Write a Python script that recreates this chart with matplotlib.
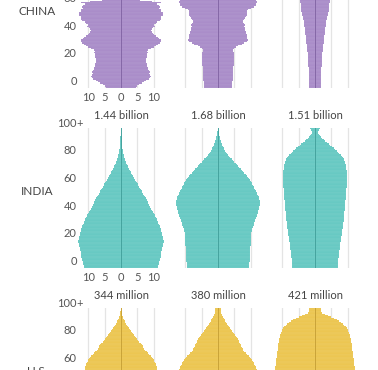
# %%
"""
Population pyramids: China, India, U.S. (2024 / 2050 / 2100)
"""
import matplotlib
matplotlib.use("Agg")
import matplotlib.pyplot as plt
import matplotlib.transforms as mtransforms
import numpy as np

# %% data (millions per sex, single year of age 0..100+)
ages = np.arange(0, 101)

china_2024 = [4.6, 5.0, 5.5, 6.3, 7.0, 7.8, 8.5, 8.9, 9.3, 8.8,
              8.6, 9.0, 8.7, 8.4, 8.3, 8.1, 8.0, 7.9, 7.8, 7.7,
              7.7, 7.8, 7.9, 8.0, 8.1, 8.2, 8.1, 8.4, 9.2, 10.0,
              10.8, 11.4, 11.9, 12.2, 12.3, 11.8, 11.3, 10.8, 10.2, 9.7,
              9.4, 9.2, 9.6, 9.9, 10.3, 10.1, 10.6, 11.2, 11.9, 12.4,
              12.4, 12.2, 12.8, 12.9, 12.9, 12.4, 12.3, 11.8, 12.1, 11.6,
              11.2, 12.2, 9.6, 5.8, 6.6, 7.6, 8.6, 8.2, 7.8, 7.3,
              7.0, 6.4, 5.9, 5.5, 5.1, 4.6, 4.2, 3.9, 3.5, 3.1,
              2.6, 2.3, 2.0, 1.7, 1.5, 1.2, 1.0, 0.8, 0.7, 0.5,
              0.4, 0.3, 0.25, 0.2, 0.15, 0.1, 0.08, 0.06, 0.04, 0.03, 0.05]
china_2050 = [4.2, 4.3, 4.3, 4.4, 4.4, 4.5, 4.5, 4.5, 4.6, 4.6,
              4.6, 4.6, 4.7, 4.7, 4.7, 4.7, 4.8, 4.8, 4.8, 4.8,
              4.8, 4.8, 4.8, 4.9, 4.9, 5.0, 4.7, 4.5, 4.9, 5.4,
              6.2, 7.4, 8.0, 8.8, 9.2, 9.0, 8.8, 8.9, 8.8, 8.7,
              8.5, 8.3, 8.3, 8.2, 8.1, 8.2, 8.0, 7.8, 7.7, 7.9,
              8.3, 8.6, 8.8, 8.9, 8.8, 9.0, 9.3, 10.2, 11.0, 11.6,
              11.8, 12.0, 11.9, 11.7, 11.3, 10.5, 9.6, 9.3, 9.1, 9.0,
              8.8, 8.9, 8.6, 8.4, 8.9, 9.2, 9.4, 9.1, 8.7, 8.3,
              7.8, 7.2, 6.7, 6.0, 5.4, 4.6, 3.6, 2.4, 2.0, 2.2,
              1.9, 1.6, 1.3, 1.0, 0.8, 0.6, 0.45, 0.3, 0.2, 0.15, 0.25]
china_2100 = [1.7, 1.7, 1.7, 1.75, 1.75, 1.8, 1.8, 1.8, 1.85, 1.85,
              1.9, 1.9, 1.9, 1.95, 1.95, 2.0, 2.0, 2.0, 2.05, 2.1,
              2.1, 2.15, 2.2, 2.2, 2.25, 2.3, 2.35, 2.4, 2.45, 2.5,
              2.55, 2.6, 2.65, 2.7, 2.75, 2.8, 2.85, 2.9, 2.95, 3.0,
              3.05, 3.1, 3.15, 3.2, 3.25, 3.3, 3.35, 3.4, 3.5, 3.6,
              3.7, 3.8, 3.9, 4.0, 4.1, 4.15, 4.2, 4.3, 4.35, 4.4,
              4.45, 4.5, 4.55, 4.6, 4.65, 4.7, 4.75, 4.8, 4.8, 4.85,
              4.85, 4.85, 4.8, 4.8, 4.75, 4.7, 4.6, 4.5, 4.4, 4.3,
              4.1, 3.9, 3.7, 3.5, 3.2, 2.9, 2.6, 2.3, 2.0, 1.7,
              1.4, 1.15, 0.9, 0.7, 0.55, 0.4, 0.3, 0.22, 0.15, 0.1, 0.3]

india_2024 = [11.4, 11.5, 11.6, 11.7, 11.8, 12.0, 12.1, 12.2, 12.3, 12.3,
              12.3, 12.4, 12.5, 12.6, 12.7, 12.8, 12.9, 13.0, 13.1, 13.1,
              13.0, 12.9, 12.8, 12.7, 12.6, 12.5, 12.4, 12.3, 12.2, 12.1,
              11.9, 11.7, 11.5, 11.3, 11.1, 10.9, 10.7, 10.5, 10.3, 10.1,
              9.9, 9.6, 9.3, 9.0, 8.8, 8.6, 8.4, 8.2, 8.0, 7.9,
              7.7, 7.4, 7.1, 6.8, 6.6, 6.4, 6.1, 5.8, 5.6, 5.3,
              5.1, 4.8, 4.6, 4.4, 4.1, 3.9, 3.7, 3.5, 3.2, 3.0,
              2.8, 2.5, 2.3, 2.0, 1.8, 1.6, 1.4, 1.3, 1.1, 1.0,
              0.9, 0.8, 0.7, 0.6, 0.55, 0.5, 0.45, 0.4, 0.35, 0.3,
              0.28, 0.25, 0.22, 0.2, 0.18, 0.15, 0.13, 0.12, 0.1, 0.1, 0.1]
india_2050 = [9.6, 9.6, 9.65, 9.65, 9.7, 9.7, 9.75, 9.75, 9.8, 9.8,
              9.85, 9.85, 9.9, 9.9, 9.95, 9.95, 10.0, 10.0, 10.0, 10.05,
              10.05, 10.1, 10.1, 10.15, 10.2, 10.25, 10.3, 10.35, 10.5, 10.8,
              11.0, 11.1, 11.2, 11.3, 11.4, 11.6, 11.8, 12.0, 12.1, 12.2,
              12.3, 12.4, 12.5, 12.6, 12.7, 12.75, 12.8, 12.8, 12.8, 12.7,
              12.6, 12.5, 12.3, 12.1, 11.9, 11.7, 11.4, 11.2, 11.0, 10.8,
              10.5, 10.3, 10.0, 9.8, 9.5, 9.2, 8.9, 8.5, 8.1, 7.8,
              7.4, 7.0, 6.6, 6.2, 5.8, 5.4, 5.0, 4.6, 4.2, 3.8,
              3.4, 3.1, 2.8, 2.5, 2.2, 1.95, 1.7, 1.5, 1.3, 1.15,
              1.0, 0.85, 0.7, 0.6, 0.5, 0.4, 0.32, 0.25, 0.2, 0.15, 0.15]
india_2100 = [7.0, 7.0, 7.05, 7.1, 7.1, 7.15, 7.2, 7.25, 7.3, 7.35,
              7.4, 7.45, 7.5, 7.55, 7.6, 7.65, 7.7, 7.75, 7.8, 7.9,
              8.0, 8.05, 8.1, 8.15, 8.2, 8.3, 8.35, 8.4, 8.5, 8.55,
              8.6, 8.65, 8.7, 8.75, 8.8, 8.85, 8.9, 8.95, 9.0, 9.0,
              9.05, 9.1, 9.1, 9.15, 9.2, 9.2, 9.25, 9.3, 9.35, 9.4,
              9.4, 9.45, 9.5, 9.5, 9.55, 9.6, 9.6, 9.65, 9.7, 9.7,
              9.7, 9.75, 9.75, 9.8, 9.8, 9.8, 9.8, 9.8, 9.75, 9.7,
              9.7, 9.65, 9.6, 9.5, 9.4, 9.3, 9.15, 9.0, 8.8, 8.5,
              8.2, 7.9, 7.5, 7.1, 6.7, 6.2, 5.7, 5.2, 4.7, 4.2,
              3.7, 3.2, 2.7, 2.3, 1.9, 1.5, 1.2, 0.9, 0.8, 1.2, 1.5]

us_2024 = [1.84, 1.86, 1.88, 1.90, 1.92, 1.95, 1.97, 2.00, 2.02, 2.04,
           2.08, 2.10, 2.12, 2.14, 2.16, 2.18, 2.20, 2.20, 2.22, 2.22,
           2.22, 2.24, 2.24, 2.26, 2.28, 2.30, 2.32, 2.34, 2.36, 2.36,
           2.38, 2.40, 2.40, 2.38, 2.34, 2.30, 2.28, 2.26, 2.24, 2.22,
           2.20, 2.18, 2.14, 2.10, 2.06, 2.02, 2.00, 2.00, 2.02, 2.06,
           2.08, 2.10, 2.10, 2.12, 2.14, 2.16, 2.20, 2.22, 2.20, 2.16,
           2.12, 2.08, 2.04, 2.00, 1.94, 1.88, 1.82, 1.74, 1.66, 1.58,
           1.50, 1.44, 1.38, 1.34, 1.30, 1.20, 1.12, 1.06, 0.98, 0.92,
           0.86, 0.80, 0.72, 0.66, 0.60, 0.54, 0.48, 0.42, 0.37, 0.32,
           0.27, 0.22, 0.18, 0.15, 0.12, 0.09, 0.07, 0.05, 0.04, 0.03, 0.03]
us_2050 = [1.90, 1.90, 1.92, 1.92, 1.94, 1.94, 1.96, 1.96, 1.98, 1.98,
           2.00, 2.00, 2.02, 2.02, 2.04, 2.04, 2.06, 2.06, 2.08, 2.08,
           2.10, 2.12, 2.14, 2.16, 2.18, 2.20, 2.22, 2.24, 2.26, 2.28,
           2.30, 2.32, 2.34, 2.36, 2.38, 2.40, 2.42, 2.44, 2.44, 2.44,
           2.44, 2.44, 2.44, 2.44, 2.44, 2.44, 2.42, 2.42, 2.42, 2.42,
           2.42, 2.42, 2.42, 2.42, 2.40, 2.40, 2.38, 2.36, 2.32, 2.28,
           2.24, 2.20, 2.14, 2.08, 2.02, 1.96, 1.90, 1.80, 1.72, 1.62,
           1.56, 1.52, 1.48, 1.44, 1.40, 1.36, 1.32, 1.28, 1.22, 1.18,
           1.12, 1.04, 0.96, 0.90, 0.84, 0.78, 0.72, 0.66, 0.60, 0.55,
           0.50, 0.45, 0.40, 0.35, 0.31, 0.27, 0.23, 0.18, 0.16, 0.16, 0.16]
us_2100 = [2.05, 2.06, 2.07, 2.08, 2.09, 2.10, 2.11, 2.12, 2.13, 2.14,
           2.15, 2.16, 2.17, 2.18, 2.19, 2.20, 2.21, 2.22, 2.23, 2.24,
           2.25, 2.26, 2.27, 2.28, 2.29, 2.30, 2.31, 2.32, 2.33, 2.34,
           2.35, 2.36, 2.37, 2.38, 2.39, 2.40, 2.41, 2.42, 2.43, 2.44,
           2.45, 2.46, 2.46, 2.47, 2.47, 2.48, 2.48, 2.48, 2.47, 2.47,
           2.47, 2.46, 2.46, 2.45, 2.45, 2.45, 2.44, 2.44, 2.43, 2.42,
           2.41, 2.40, 2.39, 2.38, 2.37, 2.36, 2.35, 2.34, 2.33, 2.31,
           2.30, 2.29, 2.28, 2.27, 2.26, 2.25, 2.23, 2.21, 2.19, 2.17,
           2.15, 2.12, 2.10, 2.07, 2.04, 2.00, 1.95, 1.88, 1.80, 1.70,
           1.60, 1.48, 1.34, 1.18, 1.00, 0.80, 0.62, 0.45, 0.38, 0.37, 0.37]

india_titles = ["1.44 billion", "1.68 billion", "1.51 billion"]
us_titles = ["344 million", "380 million", "421 million"]
# only the age labels that fall inside the cropped picture
china_ages = [0, 20, 40, 60]
india_ages = [0, 20, 40, 60, 80, 100]
us_ages = [60, 80, 100]

# %% style / layout
plt.rcParams['font.family'] = ['Lato', 'DejaVu Sans']

rows = [
    dict(name="CHINA", data=[china_2024, china_2050, china_2100], titles=None,
         ages=china_ages, color="#a98bc8", dark="#8467a6", lim=14.0,
         grid=[-10, -5, 5, 10], xlabels=["10", "5", "0", "5", "10"],
         xpos=[-10, -5, 0, 5, 10]),
    dict(name="INDIA", data=[india_2024, india_2050, india_2100], titles=india_titles,
         ages=india_ages, color="#66c8c2", dark="#45a39e", lim=14.0,
         grid=[-10, -5, 5, 10], xlabels=["10", "5", "0", "5", "10"],
         xpos=[-10, -5, 0, 5, 10]),
    dict(name="U.S.", data=[us_2024, us_2050, us_2100], titles=us_titles,
         ages=us_ages, color="#ecc54f", dark="#c9a338", lim=2.8,
         grid=[-2, -1, 1, 2], xlabels=None, xpos=None),
]

W, H = 378, 370
col_centers = [121, 218, 315]
half_w = 45.6
row_bottoms = [88.0, 268.0, 448.0]   # pixels from top
panel_h = 140.0

fig = plt.figure(figsize=(W / 100, H / 100), dpi=100)

for r, row in enumerate(rows):
    for c in range(3):
        vals = np.array(row['data'][c])
        ax = fig.add_axes([(col_centers[c] - half_w) / W,
                           (H - row_bottoms[r]) / H,
                           2 * half_w / W, panel_h / H])
        ax.set_xlim(-row['lim'], row['lim'])
        ax.set_ylim(-0.5, 100.5)
        ax.axis('off')
        for g in row['grid']:
            ax.axvline(g, color="#e4e4e4", lw=0.9, zorder=0)
        for sgn in (1, -1):
            ax.barh(ages, sgn * vals, height=1.0, color=row['color'],
                    edgecolor=(1, 1, 1, 0.1), lw=0.3, zorder=2)
        ax.axvline(0, color=row['dark'], lw=0.7, zorder=3)

        if row['titles'] is not None:
            ax.annotate(row['titles'][c], xy=(0.5, 1), xycoords='axes fraction',
                        xytext=(0, 9.0), textcoords='offset points',
                        ha='center', va='center', fontsize=8, color="#444444")

        if c == 0:
            blend = mtransforms.blended_transform_factory(ax.transAxes, ax.transData)
            for a in row['ages']:
                ax.annotate(str(a), xy=(0, a), xycoords=blend, xytext=(1.0, 4.8),
                            textcoords='offset points', ha='right', va='center_baseline',
                            fontsize=8, color="#555555")
                if a == 100:
                    ax.annotate("+", xy=(0, a), xycoords=blend, xytext=(1.0, 4.8),
                                textcoords='offset points', ha='left',
                                va='center_baseline', fontsize=8, color="#555555")
            ax.text(-0.42, 55, row['name'], transform=blend, ha='center',
                    va='center', fontsize=8.5, color="#444444")
            if row['xlabels'] is not None:
                for xv, lab in zip(row['xpos'], row['xlabels']):
                    ax.annotate(lab, xy=(xv, 0), xycoords=('data', 'axes fraction'),
                                xytext=(0, -7.0), textcoords='offset points',
                                ha='center', va='center', fontsize=8, color="#555555")

fig.savefig("out.png", dpi=100)
